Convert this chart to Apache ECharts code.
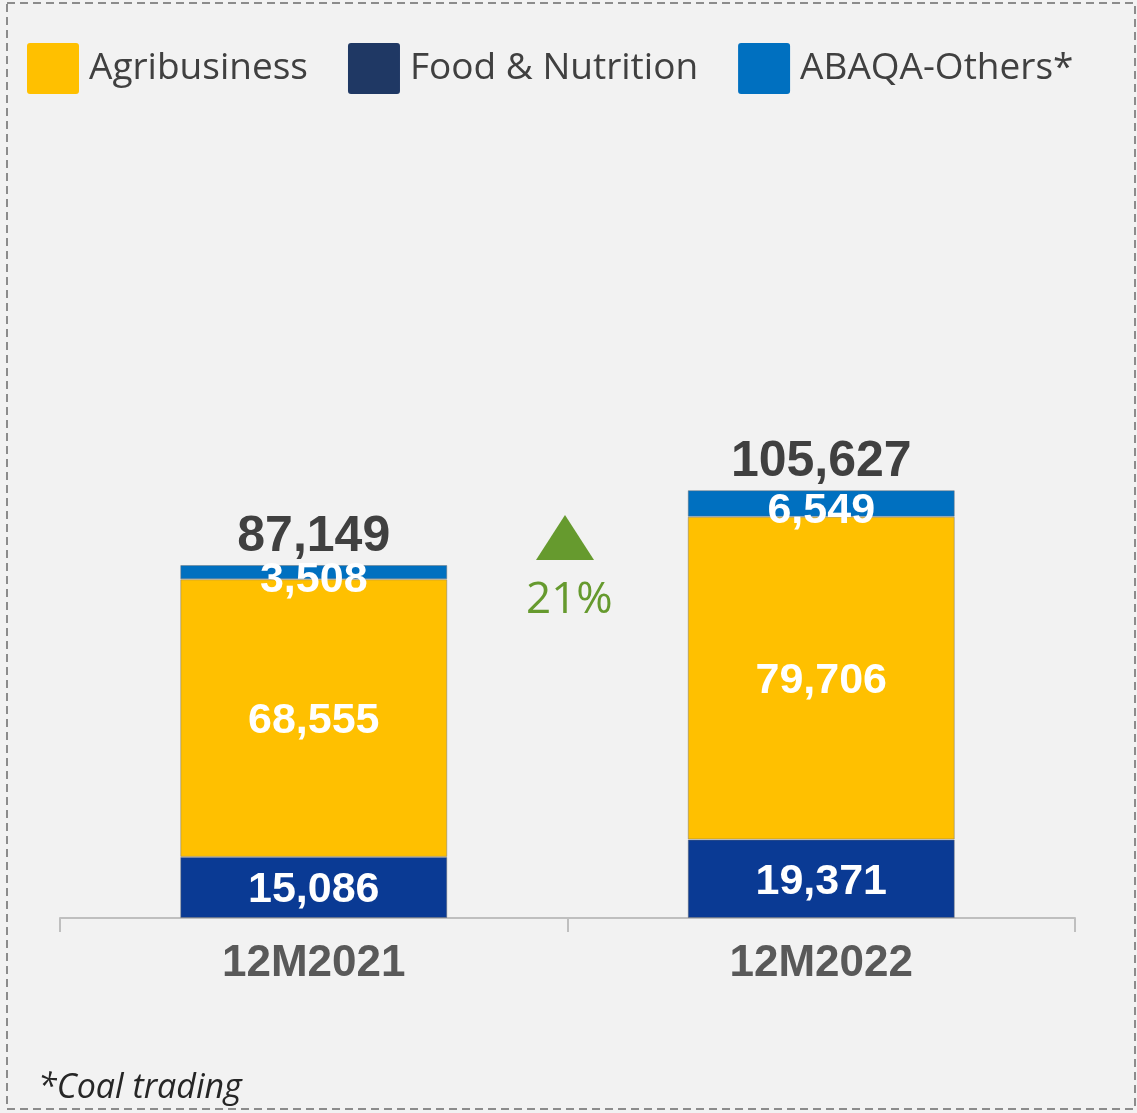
<!DOCTYPE html>
<html>
<head>
<meta charset="utf-8">
<script src="https://cdn.jsdelivr.net/npm/echarts@6/dist/echarts.min.js"></script>
<style>
  html, body { margin: 0; padding: 0; background: #f2f2f2; }
  #chart { width: 1137px; height: 1113px; }
</style>
</head>
<body>
<div id="chart"></div>
<script>
// data
const periods = ['12M2021', '12M2022']
const foodNutrition = [15086, 19371]
const agribusiness = [68555, 79706]
const abaqaOthers = [3508, 6549]
const totals = [87149, 105627]
const growthText = '21%'

const numFont = '"Liberation Sans", Arial, sans-serif'
const textFont = '"Open Sans", "Noto Sans", sans-serif'

const chart = echarts.init(document.getElementById('chart'))

const fmt = (v) => v.toLocaleString('en-US')

const insideLabel = {
  show: true,
  position: 'inside',
  offset: [0, 3],
  color: '#ffffff',
  fontFamily: numFont,
  fontWeight: 'bold',
  fontSize: 43,
  formatter: (p) => fmt(p.value)
}

const barBorder = { borderColor: 'rgba(110,110,110,0.45)', borderWidth: 1 }

const option = {
  backgroundColor: '#f2f2f2',
  animation: false,
  legend: {
    left: 22,
    top: 38,
    itemWidth: 52,
    itemHeight: 51,
    itemGap: 40,
    icon: 'path://M3,0 L49,0 Q52,0 52,3 L52,48 Q52,51 49,51 L3,51 Q0,51 0,48 L0,3 Q0,0 3,0 Z',
    textStyle: {
      fontFamily: textFont,
      fontSize: 37,
      color: '#404040',
      padding: [0, 0, 0, 5]
    },
    data: [
      { name: 'Agribusiness', itemStyle: { color: '#FFC000', borderWidth: 0 } },
      { name: 'Food & Nutrition', itemStyle: { color: '#1F3864', borderWidth: 0 } },
      { name: 'ABAQA-Others*', itemStyle: { color: '#0070C0', borderWidth: 0 } }
    ]
  },
  grid: {
    left: 60,
    right: 62,
    top: 108,
    bottom: 195
  },
  xAxis: {
    type: 'category',
    data: periods,
    axisLine: { show: true, lineStyle: { color: '#bfbfbf', width: 2 } },
    axisTick: { show: true, length: 14, lineStyle: { color: '#bfbfbf', width: 2 } },
    axisLabel: {
      margin: 24,
      fontFamily: numFont,
      fontWeight: 'bold',
      fontSize: 44,
      color: '#595959'
    }
  },
  yAxis: {
    type: 'value',
    min: 0,
    max: 200000,
    show: false,
    splitLine: { show: false }
  },
  series: [
    {
      name: 'Food & Nutrition',
      type: 'bar',
      stack: 'total',
      barWidth: 267,
      data: foodNutrition,
      itemStyle: Object.assign({ color: '#0A3A94' }, barBorder),
      label: insideLabel
    },
    {
      name: 'Agribusiness',
      type: 'bar',
      stack: 'total',
      data: agribusiness,
      itemStyle: Object.assign({ color: '#FFC000' }, barBorder),
      label: insideLabel
    },
    {
      name: 'ABAQA-Others*',
      type: 'bar',
      stack: 'total',
      data: abaqaOthers,
      itemStyle: Object.assign({ color: '#0070C0' }, barBorder),
      label: Object.assign({}, insideLabel, { offset: [0, 8] })
    },
    {
      // totals above each bar
      name: 'Total',
      type: 'line',
      data: totals,
      symbol: 'circle',
      symbolSize: 1,
      showSymbol: true,
      itemStyle: { color: 'rgba(0,0,0,0)' },
      lineStyle: { color: 'rgba(0,0,0,0)', width: 0 },
      silent: true,
      z: 5,
      label: {
        show: true,
        position: 'top',
        distance: 2,
        color: '#404040',
        fontFamily: numFont,
        fontWeight: 'bold',
        fontSize: 50,
        formatter: (p) => fmt(p.value)
      }
    }
  ],
  graphic: [
    {
      type: 'rect',
      silent: true,
      shape: { x: 7, y: 3, width: 1128, height: 1106 },
      style: { fill: 'none', stroke: '#8c8c8c', lineWidth: 2, lineDash: [8, 5] }
    },
    {
      type: 'polygon',
      silent: true,
      shape: { points: [[565, 515], [536, 560], [594, 560]] },
      style: { fill: '#669A2E' }
    },
    {
      type: 'text',
      silent: true,
      left: 526,
      top: 578,
      style: {
        text: growthText,
        fontFamily: textFont,
        fontSize: 44,
        fill: '#669A2E'
      }
    },
    {
      type: 'text',
      silent: true,
      left: 38,
      top: 1071,
      style: {
        text: '*Coal trading',
        fontFamily: textFont,
        fontStyle: 'italic',
        fontSize: 34,
        fill: '#262626'
      }
    }
  ]
}

chart.setOption(option)
</script>
</body>
</html>
